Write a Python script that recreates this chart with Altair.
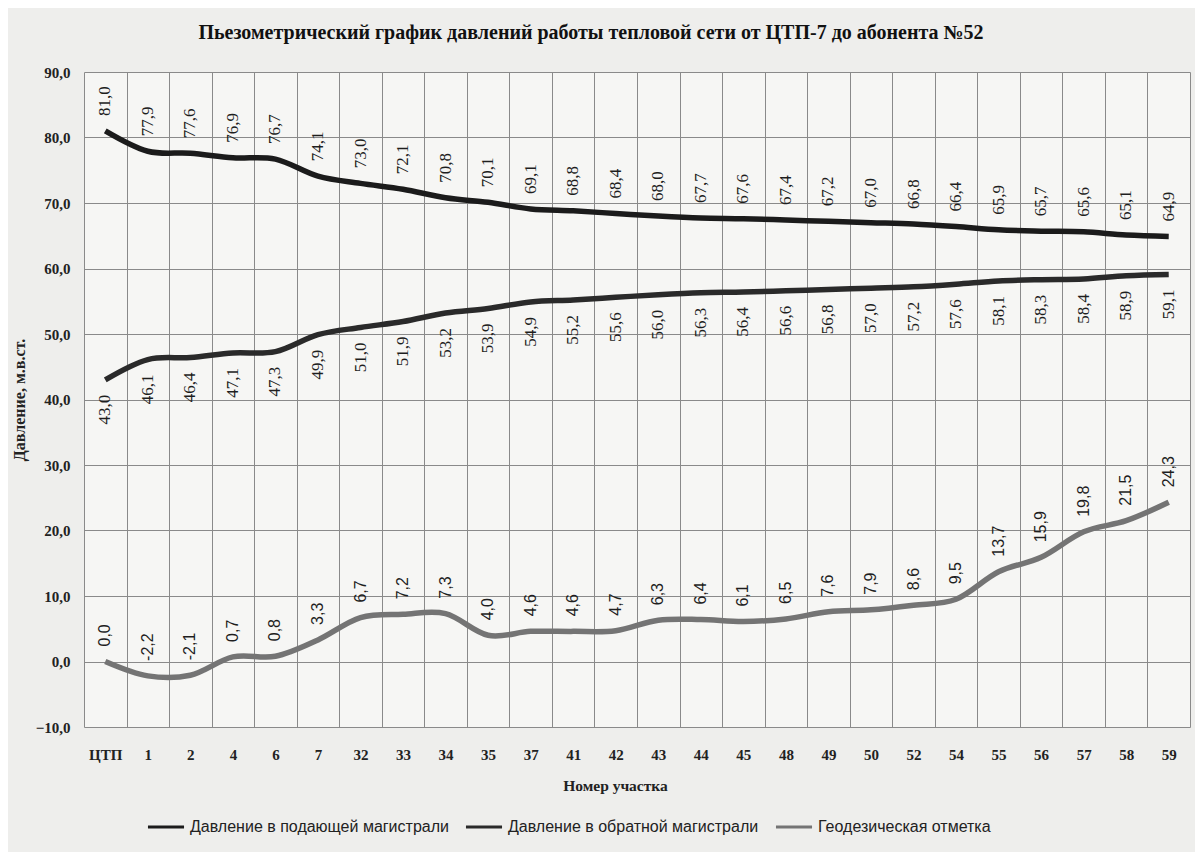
import altair as alt
import pandas as pd

cats = ["ЦТП", "1", "2", "4", "6", "7", "32", "33", "34", "35", "37", "41", "42",
        "43", "44", "45", "48", "49", "50", "52", "54", "55", "56", "57", "58", "59"]
supply = [81.0, 77.9, 77.6, 76.9, 76.7, 74.1, 73.0, 72.1, 70.8, 70.1, 69.1, 68.8, 68.4,
          68.0, 67.7, 67.6, 67.4, 67.2, 67.0, 66.8, 66.4, 65.9, 65.7, 65.6, 65.1, 64.9]
ret = [43.0, 46.1, 46.4, 47.1, 47.3, 49.9, 51.0, 51.9, 53.2, 53.9, 54.9, 55.2, 55.6,
       56.0, 56.3, 56.4, 56.6, 56.8, 57.0, 57.2, 57.6, 58.1, 58.3, 58.4, 58.9, 59.1]
geo = [0.0, -2.2, -2.1, 0.7, 0.8, 3.3, 6.7, 7.2, 7.3, 4.0, 4.6, 4.6, 4.7,
       6.3, 6.4, 6.1, 6.5, 7.6, 7.9, 8.6, 9.5, 13.7, 15.9, 19.8, 21.5, 24.3]

series_names = ["Давление в подающей магистрали", "Давление в обратной магистрали", "Геодезическая отметка"]
series_colors = ["#1b1b1b", "#2a2a2a", "#747474"]

rows = []
for name, vals in zip(series_names, [supply, ret, geo]):
    for i, (c, v) in enumerate(zip(cats, vals)):
        rows.append({"cat": c, "value": v, "series": name, "order": i,
                     "lbl": f"{v:.1f}".replace(".", ",")})
df = pd.DataFrame(rows)

serif = "Liberation Serif"
sans = "Liberation Sans"

x_enc = alt.X("cat:N", sort=cats, bandPosition=0.5,
              scale=alt.Scale(type="band", domain=cats, paddingInner=0, paddingOuter=0),
              axis=alt.Axis(title="Номер участка", tickBand="extent", grid=True,
                            gridColor="#8a8a8a", gridWidth=1, ticks=False, domain=False,
                            labelAngle=0, labelFont=serif, labelFontSize=15, labelFontWeight="bold",
                            labelColor="#222", labelPadding=20,
                            titleFont=serif, titleFontSize=15.5, titleFontWeight="bold",
                            titleColor="#222", titlePadding=16, titleX=531))
y_enc = alt.Y("value:Q", scale=alt.Scale(domain=[-10, 90], nice=False, zero=False),
              axis=alt.Axis(title="Давление, м.в.ст.", values=list(range(-10, 91, 10)),
                            labelExpr="replace(format(datum.value, '.1f'), '.', ',')",
                            grid=True, gridColor="#8a8a8a", gridWidth=1, ticks=False, domain=False,
                            labelFont=serif, labelFontSize=15, labelFontWeight="bold",
                            labelColor="#222", labelPadding=14,
                            titleFont=serif, titleFontSize=16, titleFontWeight="bold",
                            titleColor="#222", titlePadding=8))

lines = alt.Chart(df).mark_line(strokeWidth=5.5, interpolate="cardinal").encode(
    x=x_enc, y=y_enc,
    color=alt.Color("series:N",
                    scale=alt.Scale(domain=series_names, range=series_colors),
                    legend=alt.Legend(title=None, orient="none", legendX=62, legendY=735,
                                      direction="horizontal", symbolType="stroke",
                                      symbolStrokeWidth=3, symbolSize=1300,
                                      labelFont=sans, labelFontSize=16, labelColor="#222",
                                      columnPadding=10, labelLimit=400)),
    order="order:Q",
    detail="series:N",
)

def labels(name, align, dx, font, size):
    return alt.Chart(df).transform_filter(alt.datum.series == name).mark_text(
        angle=270, align=align, baseline="middle", dx=dx, font=font, fontSize=size,
        color="#1e1e1e").encode(x=x_enc, y=y_enc, text="lbl:N")

chart = alt.layer(
    lines,
    labels(series_names[0], "left", 15, serif, 17),
    labels(series_names[1], "right", -15, serif, 17),
    labels(series_names[2], "left", 15, sans, 16),
).properties(
    width=1106, height=655,
    title=alt.Title("Пьезометрический график давлений работы тепловой сети от ЦТП-7 до абонента №52",
                    font=serif, fontSize=20, fontWeight="bold", color="#111",
                    anchor="middle", frame="group", dx=-46, offset=22),
    autosize=alt.AutoSizeParams(type="none"),
    padding={"left": 76, "top": 64, "right": 5, "bottom": 125},
    background="#eeeeec",
).configure_view(stroke=None, fill="#f6f6f4")

chart.save("out.html", embed_options={"renderer": "svg", "actions": False})
